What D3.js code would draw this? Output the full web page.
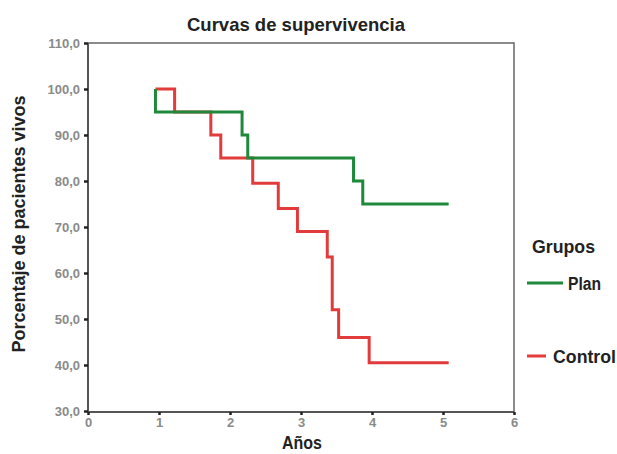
<!DOCTYPE html>
<html>
<head>
<meta charset="utf-8">
<script src="https://cdn.jsdelivr.net/npm/d3@7"></script>
<style>
  body { margin: 0; background: #fff; }
  text { font-family: "Liberation Sans Narrow", "Arial Narrow", "Liberation Sans", sans-serif; }
</style>
</head>
<body>
<div id="chart"></div>
<script>
// 1: DATA
const xTicks = [0, 1, 2, 3, 4, 5, 6];
const yTicks = [30, 40, 50, 60, 70, 80, 90, 100, 110];

// Plan group: time (years) and survival (%)
const planTimes  = [0.95, 0.95, 2.17, 2.25, 3.74, 3.87, 5.08];
const planValues = [100, 95, 90, 85, 80, 75, 75];

// Control group
const controlTimes  = [0.95, 1.22, 1.73, 1.87, 2.32, 2.68, 2.95, 3.37, 3.44, 3.53, 3.96, 5.08];
const controlValues = [100, 95, 90, 85, 79.5, 74, 69, 63.5, 52, 46, 40.5, 40.5];

const groups = ["Plan", "Control"];
const colors = { Plan: "#1e893a", Control: "#e23b3b" };

// 2: SETUP
const W = 617, H = 454;
const plot = { left: 88, right: 514, top: 43, bottom: 412 };

const svg = d3.select("#chart")
    .append("svg")
    .attr("width", W)
    .attr("height", H);

const x = d3.scaleLinear().domain([0, 6]).range([plot.left, plot.right]);
const y = d3.scaleLinear().domain([30, 110]).range([411, plot.top]);

const fmt = d => d3.format(".1f")(d).replace(".", ",");

// helper for the condensed bold labels
function label(txt, px, py, size, len, anchor) {
    return svg.append("text")
        .attr("x", px)
        .attr("y", py)
        .attr("text-anchor", anchor || "start")
        .attr("textLength", len)
        .attr("lengthAdjust", "spacingAndGlyphs")
        .style("font-size", size + "px")
        .style("font-weight", "bold")
        .attr("fill", "#222")
        .text(txt);
}

// 3: FRAME (top + right)
svg.append("path")
    .attr("d", `M${plot.left},${plot.top}H${plot.right}V${plot.bottom}`)
    .attr("fill", "none")
    .attr("stroke", "#666")
    .attr("stroke-width", 1.5);

// 4: AXES
const yAxis = svg.append("g")
    .attr("transform", `translate(${plot.left},0)`)
    .call(d3.axisLeft(y).tickValues(yTicks).tickFormat(fmt).tickSize(4).tickPadding(4));
yAxis.select(".domain").attr("stroke", "#555").attr("stroke-width", 2)
    .attr("d", `M0,${plot.top}V${plot.bottom}`);
yAxis.selectAll(".tick line").attr("stroke", "#222").attr("stroke-width", 2.5);
yAxis.selectAll(".tick text")
    .attr("fill", "#8a8a8a")
    .style("font-size", "13px")
    .style("font-weight", "bold");

const xAxis = svg.append("g")
    .attr("transform", `translate(0,${plot.bottom})`)
    .call(d3.axisBottom(x).tickValues(xTicks).tickFormat(d3.format("d")).tickSize(3).tickPadding(3));
xAxis.select(".domain").attr("stroke", "#555").attr("stroke-width", 2)
    .attr("d", `M${plot.left},0H${plot.right}`);
xAxis.selectAll(".tick line").attr("stroke", "#222").attr("stroke-width", 2.5);
xAxis.selectAll(".tick text")
    .attr("fill", "#8a8a8a")
    .style("font-size", "13px")
    .style("font-weight", "bold");

// 5: SURVIVAL CURVES
const line = d3.line()
    .x(d => x(d[0]))
    .y(d => y(d[1]))
    .curve(d3.curveStepAfter);

const series = {
    Plan: d3.zip(planTimes, planValues),
    Control: d3.zip(controlTimes, controlValues)
};

["Control", "Plan"].forEach(g => {
    svg.append("path")
        .datum(series[g])
        .attr("d", line)
        .attr("fill", "none")
        .attr("stroke", colors[g])
        .attr("stroke-width", 3);
});

// 6: LABELS
label("Curvas de supervivencia", 296, 31, 19, 218, "middle");

label("Porcentaje de pacientes vivos", -224, 25, 19, 257, "middle")
    .attr("transform", "rotate(-90)");

label("Años", 302, 449, 18, 40, "middle");

// 7: LEGEND
label("Grupos", 532, 253, 18, 63);

const legendRows = [
    { g: "Plan", y: 283, x2: 563, tx: 568, len: 33 },
    { g: "Control", y: 356, x2: 546, tx: 553, len: 63 }
];
legendRows.forEach(r => {
    svg.append("line")
        .attr("x1", 527).attr("x2", r.x2)
        .attr("y1", r.y).attr("y2", r.y)
        .attr("stroke", colors[r.g])
        .attr("stroke-width", 3);
    label(r.g, r.tx, r.y + 7, 18, r.len);
});
</script>
</body>
</html>
